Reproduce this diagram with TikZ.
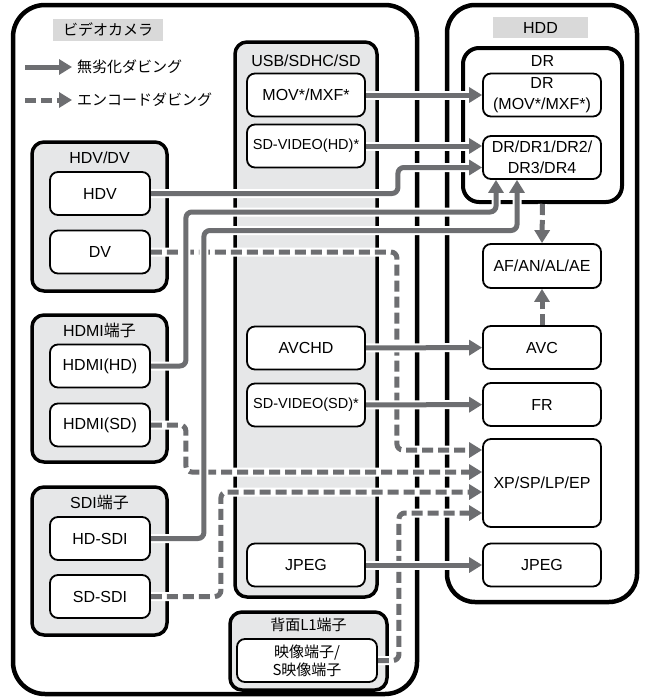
\documentclass[tikz,border=0pt]{standalone}
\usepackage{fontspec}
\setmainfont{Liberation Sans}
\newfontfamily\jp{Noto Sans CJK JP}
\usetikzlibrary{arrows.meta}

\definecolor{linkgray}{HTML}{6D6E71}
\definecolor{grpfill}{HTML}{E6E7E8}
\definecolor{tagfill}{HTML}{D9D9D9}

\pgfdeclarelayer{grp}
\pgfdeclarelayer{lnk}
\pgfsetlayers{grp,lnk,main}

\tikzset{
  outer/.style={draw, line width=4.5pt, rounded corners=32pt, inner sep=0pt},
  grp/.style={draw, line width=3.5pt, fill=grpfill, rounded corners=12pt, inner sep=0pt},
  dev/.style={draw, line width=1.8pt, fill=white, rounded corners=8pt, minimum width=118pt, minimum height=43pt, inner sep=0pt, align=center},
  port/.style={dev, minimum width=100pt},
  tag/.style={fill=tagfill, inner sep=0pt},
  txt/.style={inner sep=0pt},
  jp/.style={font=\fontsize{15}{18}\selectfont\jp},
  small/.style={font=\fontsize{14.5}{17}\selectfont},
  link/.style={draw=linkgray, line width=5pt, rounded corners=6pt, -{Triangle[length=13pt,width=15pt]},
    preaction={draw=white, line width=9pt, solid, -}},
  enc/.style={link, dash pattern=on 11pt off 5pt},
}

\begin{document}
\begin{tikzpicture}[x=1pt, y=-1pt, font=\fontsize{16}{19}\selectfont]
  \begin{pgfonlayer}{grp}
    \path[use as bounding box, fill=white] (0,0) rectangle (648,699);
    % camera and recorder
    \node[outer, minimum width=404pt, minimum height=689pt] (cam) at (215,349.5) {};
    \node[outer, rounded corners=28pt, minimum width=190pt, minimum height=597pt] (hdd) at (542,303.5) {};
    % input groups
    \node[grp, minimum width=142pt, minimum height=555pt] (usb) at (306,319.5) {};
    \node[grp, minimum width=135pt, minimum height=149pt] (hdvgrp) at (99.5,216.5) {};
    \node[grp, minimum width=135pt, minimum height=147pt] (hdmigrp) at (99.5,388.5) {};
    \node[grp, minimum width=135pt, minimum height=148pt] (sdigrp) at (99.5,561) {};
    \node[grp, minimum width=157pt, minimum height=78pt] (l1grp) at (308.5,651) {};
    \node[grp, fill=white, line width=4pt, rounded corners=16pt, minimum width=159pt, minimum height=154pt] (drgrp) at (542.5,125) {};
  \end{pgfonlayer}

  % titles
  \node[tag, jp, minimum width=110pt, minimum height=22pt] (camtag) at (108,30) {ビデオカメラ};
  \node[tag, minimum width=95pt, minimum height=21pt] (hddtag) at (540.5,27.5) {HDD};
  \node[txt] (usbtxt) at (306,61) {USB/SDHC/SD};
  \node[txt] (hdvtxt) at (99.5,158) {HDV/DV};
  \node[txt] (hdmitxt) at (99.5,330) {HDMI{\jp 端子}};
  \node[txt] (sditxt) at (99.5,502) {SDI{\jp 端子}};
  \node[txt, jp] (l1txt) at (308.5,625) {背面L1端子};
  \node[txt] (drtxt) at (542.5,61) {DR};

  % legend
  \coordinate (lg1) at (25,67);
  \coordinate (lg2) at (25,100);
  \node[txt, jp, anchor=west] (lossless) at (77,67) {無劣化ダビング};
  \node[txt, jp, anchor=west] (encode) at (77,100) {エンコードダビング};

  % camera side
  \node[dev] (mov) at (306,95) {MOV*/MXF*};
  \node[dev, small] (sdhd) at (306,146) {SD-VIDEO(HD)*};
  \node[dev] (avchd) at (306,348) {AVCHD};
  \node[dev, small] (sdsd) at (306,405) {SD-VIDEO(SD)*};
  \node[dev] (jpg) at (306,565) {JPEG};
  \node[port] (hdv) at (100,193.5) {HDV};
  \node[port] (dv) at (100,252) {DV};
  \node[port] (hdmihd) at (100,366) {HDMI(HD)};
  \node[port] (hdmisd) at (100,425) {HDMI(SD)};
  \node[port] (hdsdi) at (100,538.5) {HD-SDI};
  \node[port] (sdsdi) at (100,596.5) {SD-SDI};
  \node[dev, jp, minimum width=140pt] (l1) at (307,660.5) {映像端子/\\S映像端子};

  % recorder side
  \node[dev, font=\fontsize{16}{21}\selectfont] (drmov) at (542,95) {DR\\(MOV*/MXF*)};
  \node[dev, font=\fontsize{16}{21}\selectfont] (drx) at (542,157.5) {DR/DR1/DR2/\\DR3/DR4};
  \node[dev, minimum height=44pt] (af) at (542,266) {AF/AN/AL/AE};
  \node[dev] (avc) at (542,347.5) {AVC};
  \node[dev] (fr) at (542,404.5) {FR};
  \node[dev, minimum height=88pt] (xp) at (542,483) {XP/SP/LP/EP};
  \node[dev] (hjpg) at (542,565) {JPEG};

  \begin{pgfonlayer}{lnk}
    \draw[link] (lg1) -- ([xshift=-5pt]lossless.west);
    \draw[enc] (lg2) -- ([xshift=-5pt]encode.west);
    % encode dubbing
    \draw[enc] (drgrp.south) -- (af.north);
    \draw[enc] (avc) -- (af);
    \draw[enc] (dv.east) -- ++(246,0) |- ([yshift=33pt]xp.west);
    \draw[enc] (hdmisd.east) -- ++(35,0) |- ([yshift=11pt]xp.west);
    \draw[enc] (sdsdi.east) -- ++(70,0) |- ([yshift=-9pt]xp.west);
    \draw[enc] (l1.east) -- ++(21,0) |- ([yshift=-30pt]xp.west);
    % lossless dubbing
    \draw[link] (mov) -- (drmov);
    \draw[link] (sdhd.east) -- (sdhd.east -| drx.west);
    \draw[link] (hdv.east) -- ++(247,0) |- ([yshift=-10pt]drx.west);
    \draw[link] (hdmihd.east) -- ++(35,0) -- ++(0,-154) -| ([xshift=-46pt]drx.south);
    \draw[link] (hdsdi.east) -- ++(53,0) -- ++(0,-308) -| ([xshift=-25pt]drx.south);
    \draw[link] (avchd) -- (avc);
    \draw[link] (sdsd) -- (fr);
    \draw[link] (jpg) -- (hjpg);
  \end{pgfonlayer}
\end{tikzpicture}
\end{document}
